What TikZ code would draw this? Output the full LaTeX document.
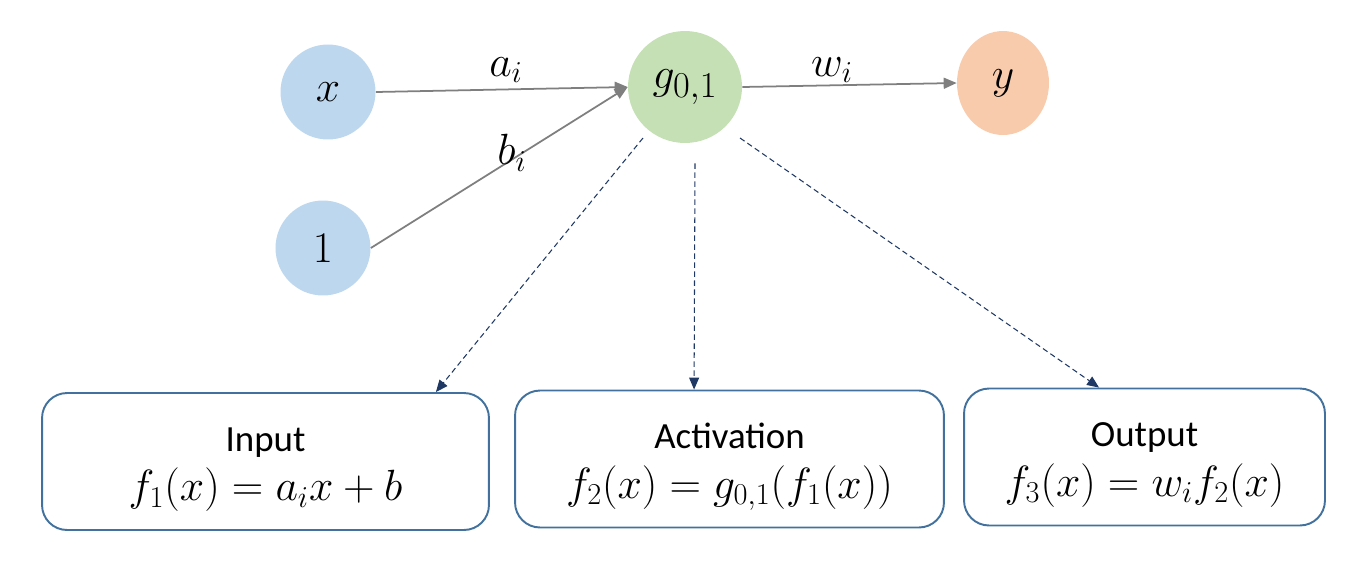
\documentclass[tikz,border=0pt]{standalone}
\usepackage{fontspec}
\setmainfont{Carlito}
\usetikzlibrary{arrows.meta,calc,shapes.geometric}
\definecolor{cblue}{HTML}{BDD7EE}
\definecolor{cgreen}{HTML}{C5E0B4}
\definecolor{corange}{HTML}{F8CBAD}
\definecolor{cgray}{HTML}{7F7F7F}
\definecolor{cnavy}{HTML}{1F3864}
\definecolor{cbox}{HTML}{41719C}
\tikzset{
  neuron/.style={circle,inner sep=0pt,minimum size=1.9cm,font=\fontsize{32}{38}\selectfont},
  solidarrow/.style={draw=cgray,line width=1pt,-{Triangle[length=0.26cm,width=0.22cm]}},
  dasharrow/.style={draw=cnavy,line width=0.6pt,dash pattern=on 0.11cm off 0.07cm,-{Triangle[length=0.24cm,width=0.2cm]}},
  infobox/.style={draw=cbox,line width=1.1pt,rounded corners=0.5cm,minimum height=2.74cm},
  boxtext/.style={align=center,font=\fontsize{21}{29}\selectfont},
  wlabel/.style={font=\fontsize{24}{28}\selectfont}
}
\begin{document}
\begin{tikzpicture}[x=0.02cm,y=0.02cm]
\useasboundingbox (0,0) rectangle (1350,-566);
\node[neuron,fill=cblue] (x) at (328,-92) {$x$};
\node[neuron,fill=cblue] (one) at (323,-248) {$1$};
\node[ellipse,inner sep=0pt,minimum width=2.28cm,minimum height=2.24cm,fill=cgreen,font=\fontsize{32}{38}\selectfont] (g) at (685,-87) {$g_{0,1}$};
\node[ellipse,inner sep=0pt,minimum width=1.84cm,minimum height=2.08cm,fill=corange,font=\fontsize{32}{38}\selectfont] (y) at (1003,-83) {$y$};

\node[infobox,minimum width=8.94cm] (b1) at (265.5,-461.5) {};
\node[infobox,minimum width=8.58cm] (b2) at (729.5,-459) {};
\node[infobox,minimum width=7.22cm] (b3) at (1144.5,-457) {};
\node[boxtext] (t1) at ($(b1.center)+(0,-8)$) {Input\\[-1pt]\fontsize{23}{28}\selectfont$f_1(x)=a_ix+b$};
\node[boxtext] (t2) at ($(b2.center)+(0,-8)$) {Activation\\[-1pt]\fontsize{23}{28}\selectfont$f_2(x)=g_{0,1}(f_1(x))$};
\node[boxtext] (t3) at ($(b3.center)+(0,-8)$) {Output\\[-1pt]\fontsize{23}{28}\selectfont$f_3(x)=w_if_2(x)$};

\draw[solidarrow] (x.east) -- (g.west);
\draw[solidarrow] (one.east) -- (g.west);
\draw[solidarrow] (g.east) -- (y.west);

\node[wlabel] (la) at (506,-70) {$a_i$};
\node[wlabel] (lb) at (512,-153) {$b_i$};
\node[wlabel] (lw) at (832,-70) {$w_i$};

\draw[dasharrow] ($(g.center)+(-42,-51)$) -- ($(b1.north east)+(-54,0)$);
\draw[dasharrow] ($(g.south)+(10,-20)$) -- ($(b2.north west)+(180,0)$);
\draw[dasharrow] ($(g.center)+(55,-51)$) -- ($(b3.north west)+(136,0)$);
\end{tikzpicture}
\end{document}
